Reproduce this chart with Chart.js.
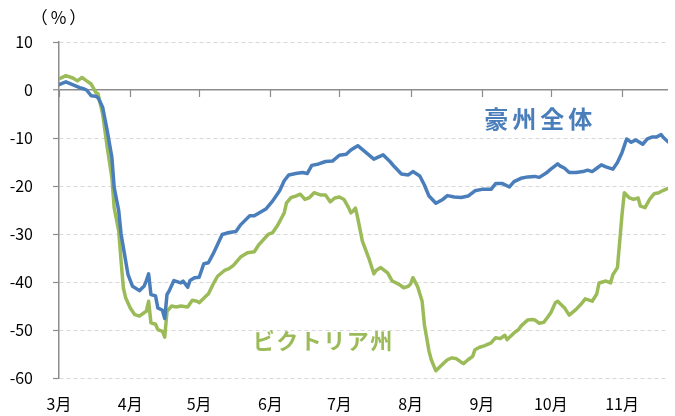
<!DOCTYPE html>
<html>
<head>
<meta charset="utf-8">
<script src="https://cdn.jsdelivr.net/npm/chart.js@4.4.1/dist/chart.umd.min.js"></script>
<style>
  html, body { margin: 0; padding: 0; background: #fff; }
</style>
</head>
<body>
<canvas id="chart" width="675" height="416"></canvas>
<script>
// x values are days counted from 1 March
const monthDays = [0, 31, 61, 92, 122, 153, 184, 214, 245];
const monthLabels = ['3月', '4月', '5月', '6月', '7月', '8月', '9月', '10月', '11月'];
const yTicks = [10, 0, -10, -20, -30, -40, -50, -60];

// 豪州全体
const ausDays = [0,3,9,11,12,14,16,17,19,21,23,24,26,27,29,30,32,35,37,38,39,40,42,43,45,46,47,48,50,53,54,56,57,59,61,63,65,67,69,71,74,77,79,83,85,90,93,96,98,100,103,106,108,110,113,116,119,122,125,127,130,133,137,141,144,146,149,152,154,157,159,161,164,167,169,172,175,178,181,184,188,190,193,196,198,201,204,207,209,212,214,217,218,220,222,225,228,230,232,234,236,238,241,243,245,247,249,251,254,256,258,260,262,263,265];
const ausValues = [1.1,1.7,0.5,0.2,0.0,-1.2,-1.3,-1.6,-3.6,-8.5,-14,-20.3,-25.2,-30,-35.6,-38.4,-40.9,-41.8,-40.9,-39.7,-38.3,-42.6,-42.9,-45.4,-45.9,-47.6,-42.6,-41.8,-39.7,-40.2,-39.8,-41.1,-39.7,-39.1,-39,-36.2,-36,-34.2,-32.2,-30.1,-29.7,-29.5,-28.1,-26.2,-26.2,-24.8,-23.1,-21,-18.9,-17.7,-17.4,-17.2,-17.4,-15.7,-15.4,-14.9,-14.8,-13.6,-13.4,-12.5,-11.6,-12.8,-14.4,-13.5,-14.9,-16,-17.5,-17.7,-17.0,-17.9,-19.8,-22.1,-23.6,-22.8,-22,-22.3,-22.4,-22.1,-21,-20.7,-20.7,-19.5,-19.5,-20.2,-19.1,-18.4,-18.1,-18,-18.2,-17.3,-16.5,-15.4,-15.8,-16.3,-17.2,-17.2,-17,-16.7,-17,-16.3,-15.6,-16,-16.5,-15.1,-13,-10.2,-10.9,-10.4,-11.3,-10.2,-9.8,-9.8,-9.3,-9.9,-10.8];

// ビクトリア州
const vicDays = [0,3,6,8,10,12,14,16,17,19,21,23,24,26,27,28,29,31,33,35,37,38,39,40,42,43,45,46,47,49,51,53,56,58,60,61,64,65,67,69,72,74,76,79,82,85,87,91,93,95,97,98,99,101,103,105,107,109,111,114,116,118,120,122,124,126,127,128,129,130,132,135,137,138,140,143,145,148,150,152,153,154,156,158,159,161,162,164,167,169,171,173,175,176,178,180,181,183,185,188,190,192,194,195,198,200,201,204,206,207,209,211,213,214,216,217,220,222,225,227,229,232,234,235,238,240,241,243,244,245,246,248,250,252,253,255,257,259,261,263,265];
const vicValues = [2.3,3.0,2.5,1.9,2.6,1.9,1.25,-0.5,-0.8,-5,-12,-18.2,-24.5,-29.4,-35.6,-41.2,-43.3,-45.4,-46.8,-47.1,-46.4,-46.1,-44,-48.5,-48.8,-49.9,-50.3,-51.5,-46.1,-45,-45.2,-45,-45.2,-43.8,-44,-44.3,-42.9,-42.5,-40.5,-38.8,-37.6,-37.2,-36.5,-34.8,-33.9,-33.7,-32.2,-30.1,-29.7,-28.3,-26.5,-25.6,-23.5,-22.4,-22.1,-21.7,-22.8,-22.4,-21.4,-21.9,-21.9,-23.3,-22.5,-22.3,-22.8,-24.5,-25.6,-25.2,-24.6,-26.7,-31.5,-35.3,-38.3,-37.6,-37,-38.1,-39.8,-40.5,-41.2,-40.9,-40.4,-39.1,-40.9,-44,-48.9,-54.4,-56.2,-58.5,-57.1,-56.2,-55.8,-56,-56.7,-57,-56.2,-55.5,-54.1,-53.6,-53.3,-52.7,-51.6,-51.8,-51.1,-52,-50.6,-49.9,-49.2,-47.9,-47.8,-47.9,-48.6,-48.4,-47.1,-46.4,-44.3,-44,-45.4,-46.9,-45.7,-44.7,-43.5,-44,-42.5,-40.2,-39.8,-40.2,-38.5,-37,-31.5,-25.9,-21.4,-22.4,-22.8,-22.5,-24.2,-24.5,-22.8,-21.6,-21.4,-20.9,-20.5];

const BLUE = '#4a7ebb';
const GREEN = '#9bbb59';
const AXIS_GRAY = '#8c8c8c';
const FONT = '"Noto Sans CJK JP", "Noto Sans", sans-serif';

function toPoints(days, values) {
  return days.map((d, i) => ({ x: d, y: values[i] }));
}

// month tick marks hanging under the zero line
const zeroTicksPlugin = {
  id: 'zeroTicks',
  beforeDatasetsDraw(chart) {
    const { ctx, scales: { x, y } } = chart;
    const y0 = Math.round(y.getPixelForValue(0));
    ctx.save();
    ctx.strokeStyle = AXIS_GRAY;
    ctx.lineWidth = 1.2;
    ctx.beginPath();
    monthDays.forEach(d => {
      const px = Math.round(x.getPixelForValue(d)) + 0.5;
      ctx.moveTo(px, y0);
      ctx.lineTo(px, y0 + 7);
    });
    ctx.stroke();
    ctx.restore();
  }
};

// axis unit and series names
const textPlugin = {
  id: 'texts',
  afterDatasetsDraw(chart) {
    const { ctx, chartArea, scales: { x, y } } = chart;
    ctx.save();
    ctx.textAlign = 'center';
    ctx.textBaseline = 'middle';

    ctx.fillStyle = '#000';
    ctx.font = '17px ' + FONT;
    ctx.letterSpacing = '3px';
    ctx.fillText('（%）', chartArea.left + 1, 18);

    ctx.font = 'bold 24px ' + FONT;
    ctx.letterSpacing = '4px';
    ctx.fillStyle = BLUE;
    ctx.fillText('豪州全体', x.getPixelForValue(208.5) + 2, y.getPixelForValue(-6));

    ctx.font = 'bold 22px ' + FONT;
    ctx.letterSpacing = '1.5px';
    ctx.fillStyle = GREEN;
    ctx.fillText('ビクトリア州', x.getPixelForValue(115), y.getPixelForValue(-52.3));
    ctx.restore();
  }
};

new Chart(document.getElementById('chart'), {
  type: 'line',
  data: {
    datasets: [
      {
        label: '豪州全体',
        data: toPoints(ausDays, ausValues),
        borderColor: BLUE,
        borderWidth: 3.5,
        pointRadius: 0,
        tension: 0,
        borderJoinStyle: 'round',
        borderCapStyle: 'round'
      },
      {
        label: 'ビクトリア州',
        data: toPoints(vicDays, vicValues),
        borderColor: GREEN,
        borderWidth: 3.5,
        pointRadius: 0,
        tension: 0,
        borderJoinStyle: 'round',
        borderCapStyle: 'round'
      }
    ]
  },
  options: {
    responsive: false,
    animation: false,
    layout: { padding: { top: 42, right: 7, left: 0, bottom: 0 } },
    plugins: {
      legend: { display: false },
      tooltip: { enabled: false }
    },
    scales: {
      x: {
        type: 'linear',
        position: 'bottom',
        min: 0,
        max: 265,
        afterBuildTicks: s => { s.ticks = monthDays.map(v => ({ value: v })); },
        afterFit: s => { s.height = 38; },
        grid: { display: false, drawTicks: false },
        border: { display: false },
        ticks: {
          padding: 16,
          color: '#000',
          maxRotation: 0,
          autoSkip: false,
          font: { family: FONT, size: 16 },
          callback: v => monthLabels[monthDays.indexOf(v)]
        }
      },
      y: {
        min: -60,
        max: 10,
        afterBuildTicks: s => { s.ticks = yTicks.map(v => ({ value: v })); },
        afterFit: s => { s.width = 59; },
        grid: {
          color: c => (c.tick && c.tick.value === 0) ? AXIS_GRAY : '#d9d9d9',
          lineWidth: c => (c.tick && c.tick.value === 0) ? 1.5 : 1,
          tickLength: 6,
          tickColor: AXIS_GRAY,
          tickWidth: 1.2
        },
        border: {
          color: AXIS_GRAY,
          width: 1.5,
          dash: c => (c.tick && c.tick.value === 0) ? [] : [4, 3]
        },
        ticks: {
          padding: 20,
          color: '#000',
          font: { family: FONT, size: 16 }
        }
      }
    }
  },
  plugins: [zeroTicksPlugin, textPlugin]
});
</script>
</body>
</html>
